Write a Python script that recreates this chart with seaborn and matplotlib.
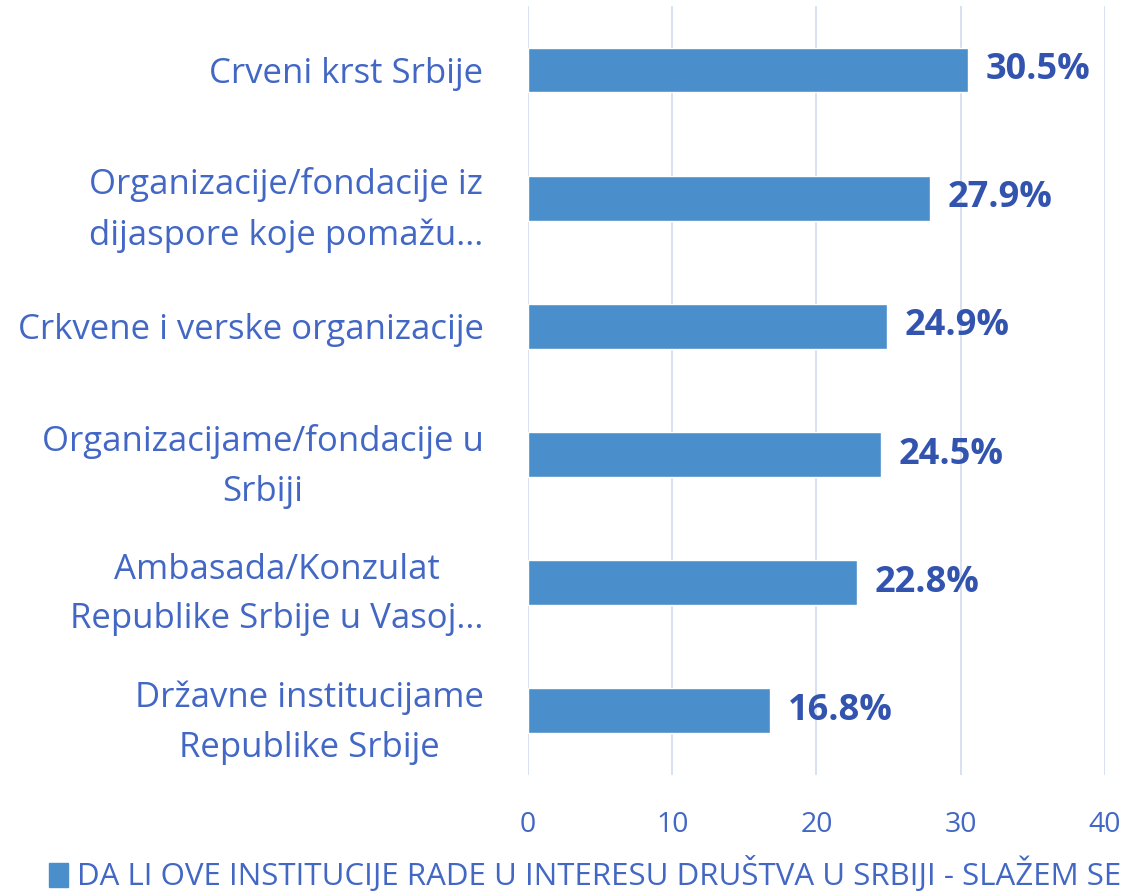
import matplotlib
matplotlib.use("Agg")
import matplotlib.pyplot as plt
import seaborn as sns
import pandas as pd

# ---------------------------------
# Data
# ---------------------------------
categories = [
    "Crveni krst Srbije",
    "Organizacije/fondacije iz\ndijaspore koje pomažu...",
    "Crkvene i verske organizacije",
    "Organizacijame/fondacije u\nSrbiji",
    "Ambasada/Konzulat\nRepublike Srbije u Vasoj...",
    "Državne institucijame\nRepublike Srbije",
]
values = [30.5, 27.9, 24.9, 24.5, 22.8, 16.8]
x_ticks = [0, 10, 20, 30, 40]
series_name = "DA LI OVE INSTITUCIJE RADE U INTERESU DRUŠTVA U SRBIJI - SLAŽEM SE"

df = pd.DataFrame({"institucija": categories, "procenat": values})

bar_color = "#4A8FCC"
label_color = "#4267C4"
value_color = "#3253AE"
grid_color = "#D6DEF0"

sns.set_theme(style="white")
plt.rcParams["font.family"] = ["Open Sans", "DejaVu Sans"]

fig = plt.figure(figsize=(11.25, 8.92), dpi=100)
ax = fig.add_axes([0.4693, 0.1312, 0.5129, 0.8621])

sns.barplot(data=df, x="procenat", y="institucija", color=bar_color,
            width=0.35, saturation=1, ax=ax)

ax.set_xlim(0, 40)
ax.set_ylim(5.5, -0.5)
ax.set_xticks(x_ticks)
ax.set_xticklabels([str(t) for t in x_ticks], fontsize=20.5, color=label_color)
ax.tick_params(axis="x", length=0, pad=26)
ax.tick_params(axis="y", length=0, pad=32)
for lbl in ax.get_yticklabels():
    lbl.set_fontsize(25)
    lbl.set_color(label_color)
    lbl.set_multialignment("center")
    lbl.set_linespacing(1.6)

ax.set_xlabel("")
ax.set_ylabel("")
for s in ax.spines.values():
    s.set_visible(False)
ax.grid(axis="x", color=grid_color, linewidth=1.3)
ax.set_axisbelow(True)

for i, v in enumerate(values):
    ax.text(v + 1.2, i, f"{v}%", va="center", ha="left", fontsize=26,
            fontweight="bold", color=value_color)

# legend at the bottom
handle = plt.Rectangle((0, 0), 1, 1, color=bar_color)
fig.legend([handle], [series_name], loc="lower center",
           bbox_to_anchor=(0.52, -0.032), frameon=False, fontsize=22.5,
           handlelength=0.6, handleheight=0.8, handletextpad=0.3,
           labelcolor=label_color)

fig.savefig("out.png", dpi=100)
